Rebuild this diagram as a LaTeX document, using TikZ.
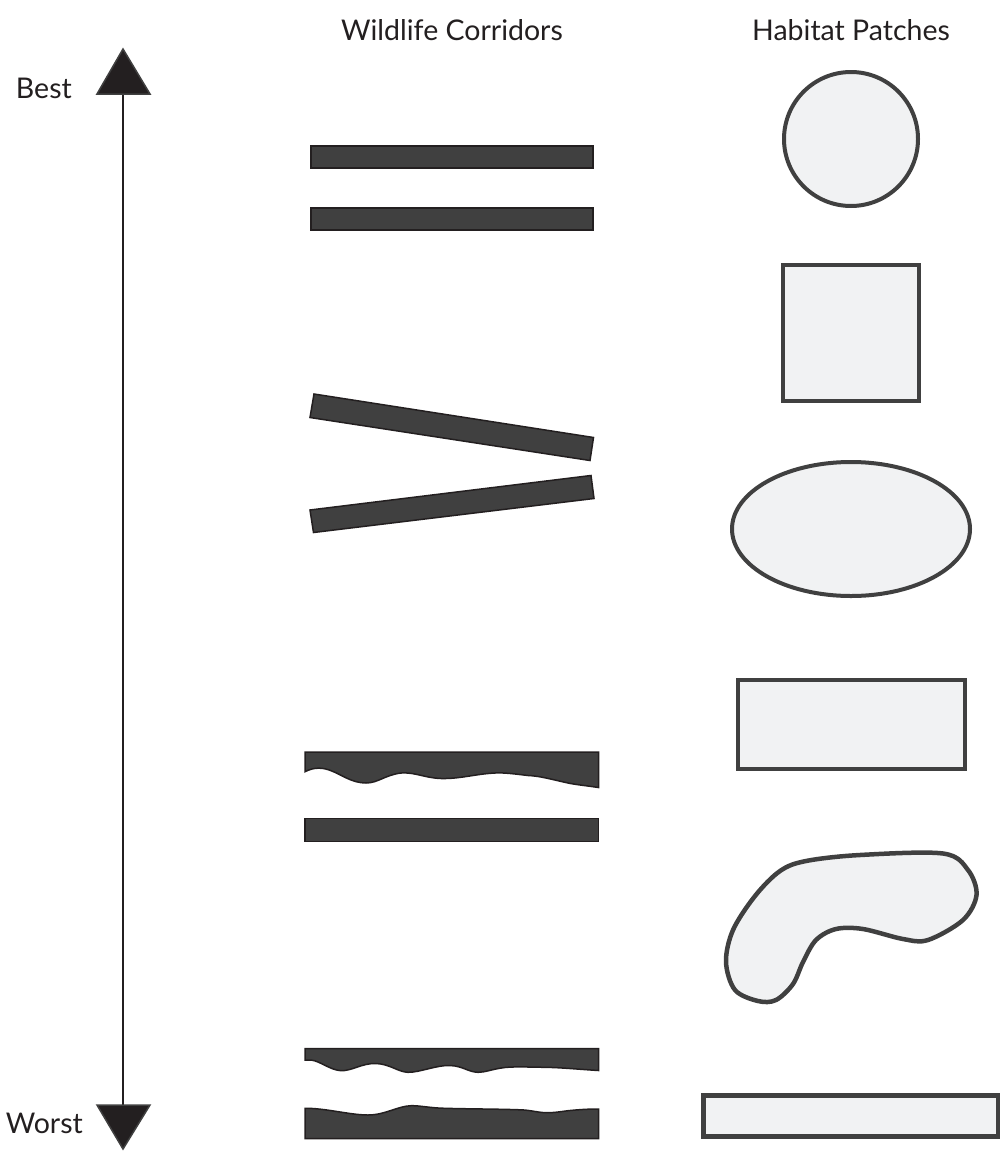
\documentclass[tikz,border=0pt]{standalone}
\usepackage{fontspec}
\setmainfont{Lato}
\begin{document}
\begin{tikzpicture}[x=1pt,y=-1pt,
  corridor/.style={fill=corfill,draw=cordraw,line width=1.5pt,line join=miter},
  patch/.style={fill=patchfill,draw=patchdraw,line width=4pt},
  label/.style={font=\fontsize{28.5}{32}\selectfont,text=labeltext,inner sep=0pt},
  head/.style={fill=headfill,draw=patchdraw,line width=1.5pt,line join=miter}]
\definecolor{corfill}{HTML}{404040}
\definecolor{cordraw}{HTML}{231F20}
\definecolor{patchfill}{HTML}{F1F2F3}
\definecolor{patchdraw}{HTML}{404040}
\definecolor{headfill}{HTML}{231F20}
\definecolor{labeltext}{HTML}{231F20}
\useasboundingbox (0,0) rectangle (1000,1151);
% titles
\node[label,anchor=base] (t1) at (452,40) {Wildlife Corridors};
\node[label,anchor=base] (t2) at (851,40) {Habitat Patches};
\node[label,anchor=base east] (best) at (72,98) {Best};
\node[label,anchor=base east] (worst) at (83,1133) {Worst};
% axis
\coordinate (atop) at (123,93);
\coordinate (abot) at (123,1106);
\draw[line width=2pt,draw=headfill] (atop) -- (abot);
\draw[head] (123,49) -- (150,94) -- (97,94) -- cycle;
\draw[head] (123,1149) -- (150,1105) -- (97,1105) -- cycle;
% corridors
\draw[corridor] (311,146) rectangle (593,168);
\draw[corridor] (311,208) rectangle (593,230);
\draw[corridor] (314,394) -- (593.5,437.5) -- (590,460.5) -- (310,417.5) -- cycle;
\draw[corridor] (310,510) -- (591,475.5) -- (594,498.5) -- (313.5,532.5) -- cycle;
\draw[corridor] (305,752) -- (598.5,752) -- (598.5,787.5)
  .. controls (585,785.5) and (575,784.5) .. (568,783)
  .. controls (550,779) and (540,776) .. (528,775.5)
  .. controls (515,774) and (505,772.5) .. (495,773)
  .. controls (475,774) and (460,779) .. (441,778.5)
  .. controls (425,778) and (415,772) .. (401,773)
  .. controls (385,775) and (378,783) .. (366,783)
  .. controls (352,783) and (342,775) .. (333,771.5)
  .. controls (323,767) and (314,767) .. (305,771.7) -- cycle;
\draw[corridor] (305,818.5) rectangle (598.5,841.5);
\draw[corridor] (305,1048.5) -- (598.5,1048.5) -- (598.5,1070.5)
  .. controls (575,1069) and (560,1067.5) .. (545,1067.3)
  .. controls (525,1067) and (515,1066.5) .. (505,1067.5)
  .. controls (492,1069) and (485,1072.5) .. (478,1072.3)
  .. controls (468,1072) and (463,1066) .. (450,1065.5)
  .. controls (436,1065) and (420,1072.5) .. (408,1072.3)
  .. controls (398,1072) and (390,1064) .. (376,1063.5)
  .. controls (362,1063) and (352,1071) .. (341,1070.7)
  .. controls (330,1070) and (320,1061) .. (311,1060)
  -- (305,1060) -- cycle;
\draw[corridor] (305,1138.5) -- (598.5,1138.5) -- (598.5,1109)
  .. controls (585,1109) and (575,1110) .. (568,1110.7)
  .. controls (558,1112) and (552,1113) .. (545,1112.7)
  .. controls (535,1112) and (530,1110) .. (520,1109.8)
  .. controls (500,1109) and (470,1109) .. (445,1108.3)
  .. controls (430,1108) and (420,1105.5) .. (411,1105.7)
  .. controls (398,1106) and (385,1115) .. (368,1115)
  .. controls (350,1115) and (325,1108) .. (305,1108.3) -- cycle;
% habitat patches
\draw[patch] (851,139) circle[radius=67];
\draw[patch] (783,265) rectangle (919,401);
\draw[patch] (851,529) ellipse[x radius=119,y radius=67];
\draw[patch] (738,680) rectangle (965,769);
\draw[patch,line width=4.5pt] plot[smooth cycle,tension=0.55] coordinates {
  (806,861) (860,855) (943,853.5) (968,870) (976.5,895) (963,920) (928,940)
  (903,939) (863,929) (836,929) (816,940) (803,962) (793,984) (776,1000)
  (758,1001) (735,990) (726,962) (733,930) (755,896) (780,871)};
\draw[patch,line width=5pt] (703,1095) rectangle (998,1136);
\end{tikzpicture}
\end{document}
